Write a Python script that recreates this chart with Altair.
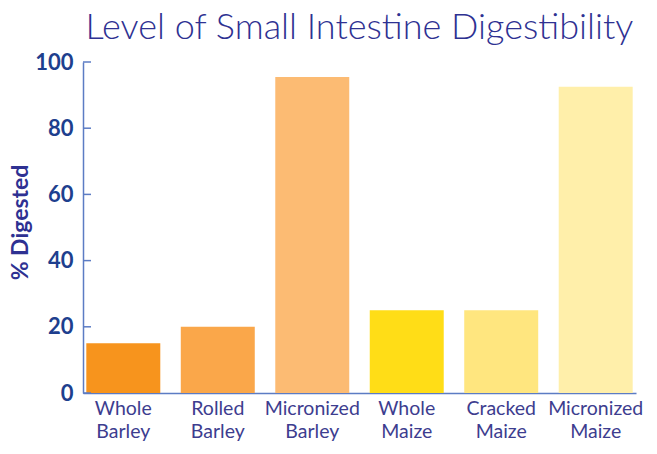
import altair as alt
import pandas as pd

categories = ["Whole Barley", "Rolled Barley", "Micronized Barley",
              "Whole Maize", "Cracked Maize", "Micronized Maize"]
values = [15, 20, 95.5, 25, 25, 92.5]
colors = ["#F7941D", "#FAA74A", "#FCBB73", "#FFDD17", "#FFE67F", "#FFEFAA"]
y_ticks = [0, 20, 40, 60, 80, 100]

AXIS = "#5C7CC4"
NAVY = "#2E3192"
LABEL = "#1E3F8E"
FONT = "Lato"

df = pd.DataFrame({"cat": categories, "val": values, "color": colors})
ticks_df = pd.DataFrame({"t": y_ticks})

y_scale = alt.Scale(domain=[0, 100], nice=False)

bars = alt.Chart(df).mark_bar().encode(
    x=alt.X("cat:N", sort=categories,
            scale=alt.Scale(paddingInner=0.217, paddingOuter=0.035),
            axis=alt.Axis(title=None, labelAngle=0, ticks=False,
                          domainColor=AXIS, domainWidth=1.5,
                          labelColor="#3D3D8F", labelFont=FONT,
                          labelFontSize=19.5, labelPadding=6,
                          labelLineHeight=23,
                          labelExpr="split(datum.label, ' ')")),
    y=alt.Y("val:Q", scale=y_scale,
            axis=alt.Axis(title="% Digested", values=y_ticks, grid=False,
                          ticks=False, domainColor=AXIS, domainWidth=1.5,
                          labelColor=LABEL, labelFont=FONT,
                          labelFontWeight="bold", labelFontSize=22,
                          labelPadding=10,
                          titleColor=NAVY, titleFont=FONT,
                          titleFontWeight="bold", titleFontSize=23,
                          titleAngle=-90, titleX=-56, titleY=160,
                          titleAlign="center", titleBaseline="alphabetic")),
    color=alt.Color("color:N", scale=None, legend=None),
)

tick_marks = alt.Chart(ticks_df).mark_rule(color=AXIS, strokeWidth=1.5).encode(
    y=alt.Y("t:Q", scale=y_scale),
    x=alt.value(0),
    x2=alt.value(8),
)

chart = alt.layer(bars, tick_marks).properties(
    width=553,
    height=331,
    title=alt.TitleParams("Level of Small Intestine Digestibility",
                          font=FONT, fontSize=36, fontWeight=300,
                          color=NAVY, anchor="middle", offset=4),
    autosize=alt.AutoSizeParams(type="none"),
    padding={"left": 75, "top": 54, "right": 10, "bottom": 53},
).configure_view(stroke=None)

chart.save("out.html", embed_options={"renderer": "svg", "actions": False})
